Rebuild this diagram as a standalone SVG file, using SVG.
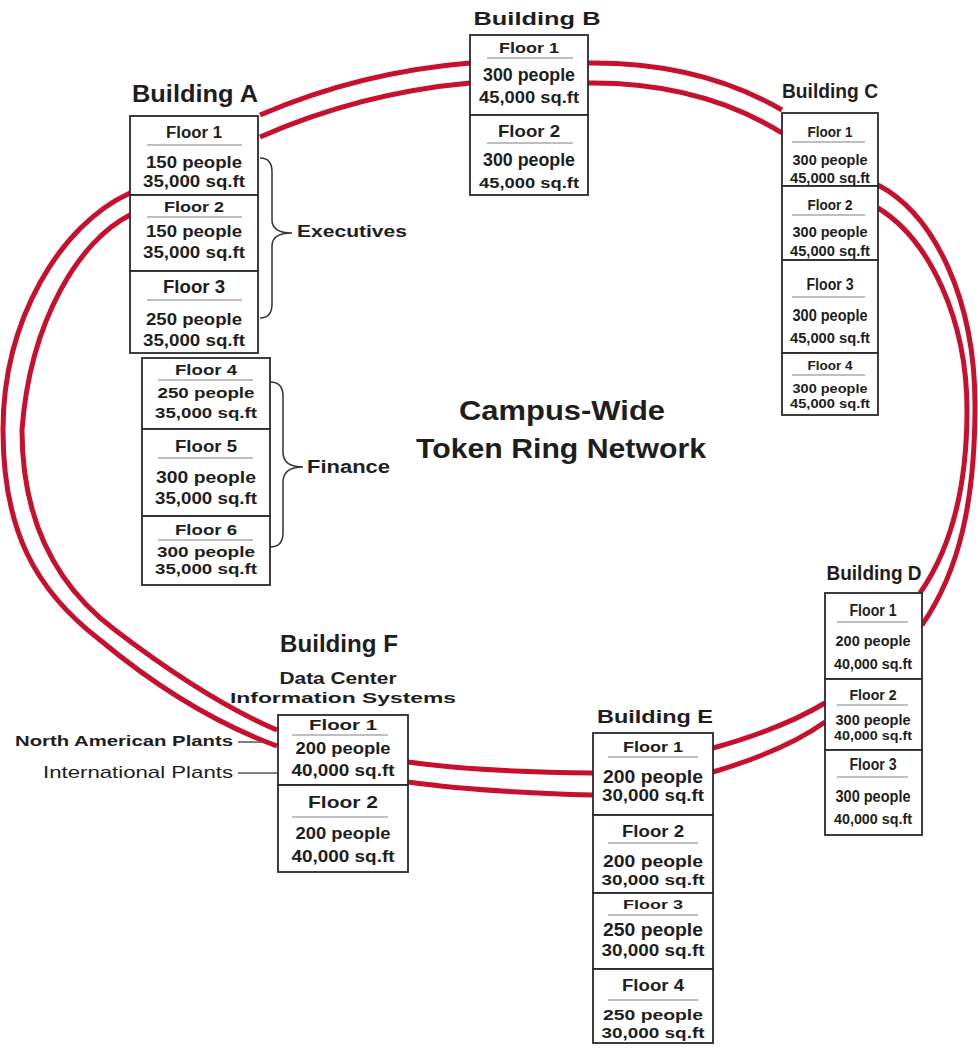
<svg xmlns="http://www.w3.org/2000/svg" width="978" height="1054" viewBox="0 0 978 1054">
<style>
.bg{fill:#fff}
.ring{fill:none;stroke:#c8102e;stroke-width:5;stroke-linecap:butt}
.box{fill:#fff;stroke:#2a2a2a;stroke-width:1.8}
.dv{stroke:#808080;stroke-width:1.2}
.br{fill:none;stroke:#333;stroke-width:1.5}
.ln{stroke:#555;stroke-width:1.5}
.t{font-family:"Liberation Sans",Arial,Helvetica,sans-serif;font-weight:bold;fill:#1e1e1e;text-anchor:middle}
.n{font-weight:normal}
.s{text-anchor:start}
</style>
<rect class="bg" x="0" y="0" width="978" height="1054"/>

<g id="connectors">
  <!-- A to B -->
  <path class="ring" d="M260,115 Q360,72 470,63"/>
  <path class="ring" d="M260,137 Q360,93 470,83"/>
  <!-- B to C -->
  <path class="ring" d="M588,63 Q700,62 782,110"/>
  <path class="ring" d="M588,83 Q700,82 782,133"/>
  <!-- C to D -->
  <path class="ring" d="M878,185 C935,215 975,300 975,405 C975,500 960,570 922,625"/>
  <path class="ring" d="M878,208 C930,240 967,320 967,410 C967,490 950,550 920,593"/>
  <!-- D to E -->
  <path class="ring" d="M713,772 C760,758 800,740 825,722"/>
  <path class="ring" d="M713,748 C760,735 800,718 825,703"/>
  <!-- E to F -->
  <path class="ring" d="M408,782 Q480,792 593,795"/>
  <path class="ring" d="M408,762 Q480,772 593,773"/>
  <!-- F to A (left) -->
  <path class="ring" d="M130,193 C60,225 3,320 3,430 C3,530 35,590 100,640 C160,690 220,725 277,746"/>
  <path class="ring" d="M130,215 C80,240 30,320 22,430 C22,520 55,585 115,630 C170,672 225,708 277,730"/>
  <!-- plant links -->
  <line class="ln" x1="238" y1="742" x2="262" y2="742"/>
  <line class="ln" x1="238" y1="773" x2="278" y2="773"/>
  <!-- braces -->
  <path class="br" d="M260,158 Q272,158 272,172 L272,220 Q272,233 292,233 Q272,233 272,246 L272,304 Q272,318 260,318"/>
  <path class="br" d="M270,382 Q283,382 283,396 L283,452 Q283,467 303,467 Q283,467 283,482 L283,533 Q283,547 270,547"/>
</g>

<g id="title">
  <text class="t" x="562" y="420" font-size="28" textLength="206" lengthAdjust="spacingAndGlyphs">Campus-Wide</text>
  <text class="t" x="561" y="458" font-size="28" textLength="290" lengthAdjust="spacingAndGlyphs">Token Ring Network</text>
</g>

<g id="labels">
  <text class="t s" x="297" y="237" font-size="17" textLength="110" lengthAdjust="spacingAndGlyphs">Executives</text>
  <text class="t s" x="307" y="473" font-size="18" textLength="83" lengthAdjust="spacingAndGlyphs">Finance</text>
  <text class="t s" x="15" y="746" font-size="14" textLength="218" lengthAdjust="spacingAndGlyphs">North American Plants</text>
  <text class="t s n" x="43" y="778" font-size="17" textLength="190" lengthAdjust="spacingAndGlyphs">International Plants</text>
</g>

<g id="building-a">
  <text class="t" x="195" y="102" font-size="24" textLength="126" lengthAdjust="spacingAndGlyphs">Building A</text>
  <rect class="box" x="130" y="116" width="128" height="79"/>
  <text class="t" x="194" y="138" font-size="16" textLength="56" lengthAdjust="spacingAndGlyphs">Floor 1</text>
  <line class="dv" x1="147" y1="145" x2="242" y2="145"/>
  <text class="t" x="194" y="168" font-size="17" textLength="96" lengthAdjust="spacingAndGlyphs">150 people</text>
  <text class="t" x="194" y="187" font-size="16" textLength="102" lengthAdjust="spacingAndGlyphs">35,000 sq.ft</text>
  <rect class="box" x="130" y="195" width="128" height="76"/>
  <text class="t" x="194" y="212" font-size="15" textLength="60" lengthAdjust="spacingAndGlyphs">Floor 2</text>
  <line class="dv" x1="147" y1="217" x2="242" y2="217"/>
  <text class="t" x="194" y="237" font-size="17" textLength="96" lengthAdjust="spacingAndGlyphs">150 people</text>
  <text class="t" x="194" y="258" font-size="16" textLength="102" lengthAdjust="spacingAndGlyphs">35,000 sq.ft</text>
  <rect class="box" x="130" y="271" width="128" height="82"/>
  <text class="t" x="194" y="293" font-size="18" textLength="62" lengthAdjust="spacingAndGlyphs">Floor 3</text>
  <line class="dv" x1="147" y1="300" x2="242" y2="300"/>
  <text class="t" x="194" y="325" font-size="17" textLength="96" lengthAdjust="spacingAndGlyphs">250 people</text>
  <text class="t" x="194" y="346" font-size="16" textLength="102" lengthAdjust="spacingAndGlyphs">35,000 sq.ft</text>

  <rect class="box" x="142" y="358" width="128" height="71"/>
  <text class="t" x="206" y="375" font-size="14" textLength="62" lengthAdjust="spacingAndGlyphs">Floor 4</text>
  <line class="dv" x1="158" y1="380" x2="253" y2="380"/>
  <text class="t" x="206" y="398" font-size="14" textLength="97" lengthAdjust="spacingAndGlyphs">250 people</text>
  <text class="t" x="206" y="418" font-size="15" textLength="102" lengthAdjust="spacingAndGlyphs">35,000 sq.ft</text>
  <rect class="box" x="142" y="429" width="128" height="87"/>
  <text class="t" x="206" y="452" font-size="17" textLength="62" lengthAdjust="spacingAndGlyphs">Floor 5</text>
  <line class="dv" x1="158" y1="458" x2="253" y2="458"/>
  <text class="t" x="206" y="483" font-size="17" textLength="100" lengthAdjust="spacingAndGlyphs">300 people</text>
  <text class="t" x="206" y="504" font-size="16" textLength="102" lengthAdjust="spacingAndGlyphs">35,000 sq.ft</text>
  <rect class="box" x="142" y="516" width="128" height="69"/>
  <text class="t" x="206" y="535" font-size="14" textLength="62" lengthAdjust="spacingAndGlyphs">Floor 6</text>
  <line class="dv" x1="158" y1="540" x2="253" y2="540"/>
  <text class="t" x="206" y="557" font-size="14" textLength="98" lengthAdjust="spacingAndGlyphs">300 people</text>
  <text class="t" x="206" y="574" font-size="14" textLength="102" lengthAdjust="spacingAndGlyphs">35,000 sq.ft</text>
</g>

<g id="building-b">
  <text class="t" x="537" y="25" font-size="18" textLength="127" lengthAdjust="spacingAndGlyphs">Building B</text>
  <rect class="box" x="470" y="35" width="118" height="80"/>
  <text class="t" x="529" y="53" font-size="15" textLength="60" lengthAdjust="spacingAndGlyphs">Floor 1</text>
  <line class="dv" x1="487" y1="58" x2="573" y2="58"/>
  <text class="t" x="529" y="81" font-size="18" textLength="92" lengthAdjust="spacingAndGlyphs">300 people</text>
  <text class="t" x="529" y="103" font-size="16" textLength="100" lengthAdjust="spacingAndGlyphs">45,000 sq.ft</text>
  <rect class="box" x="470" y="115" width="118" height="80"/>
  <text class="t" x="529" y="137" font-size="17" textLength="62" lengthAdjust="spacingAndGlyphs">Floor 2</text>
  <line class="dv" x1="487" y1="143" x2="573" y2="143"/>
  <text class="t" x="529" y="166" font-size="18" textLength="92" lengthAdjust="spacingAndGlyphs">300 people</text>
  <text class="t" x="529" y="188" font-size="15" textLength="100" lengthAdjust="spacingAndGlyphs">45,000 sq.ft</text>
</g>

<g id="building-c">
  <text class="t" x="830" y="98" font-size="20" textLength="96" lengthAdjust="spacingAndGlyphs">Building C</text>
  <rect class="box" x="782" y="113" width="96" height="73"/>
  <text class="t" x="830" y="137" font-size="15" textLength="45" lengthAdjust="spacingAndGlyphs">Floor 1</text>
  <line class="dv" x1="792" y1="142" x2="865" y2="142"/>
  <text class="t" x="830" y="165" font-size="15" textLength="75" lengthAdjust="spacingAndGlyphs">300 people</text>
  <text class="t" x="830" y="183" font-size="14" textLength="80" lengthAdjust="spacingAndGlyphs">45,000 sq.ft</text>
  <rect class="box" x="782" y="186" width="96" height="74"/>
  <text class="t" x="830" y="210" font-size="14" textLength="45" lengthAdjust="spacingAndGlyphs">Floor 2</text>
  <line class="dv" x1="792" y1="215" x2="865" y2="215"/>
  <text class="t" x="830" y="237" font-size="14" textLength="75" lengthAdjust="spacingAndGlyphs">300 people</text>
  <text class="t" x="830" y="256" font-size="15" textLength="80" lengthAdjust="spacingAndGlyphs">45,000 sq.ft</text>
  <rect class="box" x="782" y="260" width="96" height="93"/>
  <text class="t" x="830" y="290" font-size="16" textLength="47" lengthAdjust="spacingAndGlyphs">Floor 3</text>
  <line class="dv" x1="792" y1="297" x2="865" y2="297"/>
  <text class="t" x="830" y="321" font-size="17" textLength="75" lengthAdjust="spacingAndGlyphs">300 people</text>
  <text class="t" x="830" y="343" font-size="15" textLength="80" lengthAdjust="spacingAndGlyphs">45,000 sq.ft</text>
  <rect class="box" x="782" y="353" width="96" height="62"/>
  <text class="t" x="830" y="370" font-size="13" textLength="45" lengthAdjust="spacingAndGlyphs">Floor 4</text>
  <line class="dv" x1="792" y1="375" x2="865" y2="375"/>
  <text class="t" x="830" y="393" font-size="13" textLength="75" lengthAdjust="spacingAndGlyphs">300 people</text>
  <text class="t" x="830" y="408" font-size="13" textLength="80" lengthAdjust="spacingAndGlyphs">45,000 sq.ft</text>
</g>

<g id="building-d">
  <text class="t" x="874" y="580" font-size="20" textLength="95" lengthAdjust="spacingAndGlyphs">Building D</text>
  <rect class="box" x="825" y="593" width="97" height="86"/>
  <text class="t" x="873" y="616" font-size="16" textLength="47" lengthAdjust="spacingAndGlyphs">Floor 1</text>
  <line class="dv" x1="837" y1="622" x2="908" y2="622"/>
  <text class="t" x="873" y="646" font-size="15" textLength="75" lengthAdjust="spacingAndGlyphs">200 people</text>
  <text class="t" x="873" y="669" font-size="15" textLength="78" lengthAdjust="spacingAndGlyphs">40,000 sq.ft</text>
  <rect class="box" x="825" y="679" width="97" height="71"/>
  <text class="t" x="873" y="700" font-size="14" textLength="47" lengthAdjust="spacingAndGlyphs">Floor 2</text>
  <line class="dv" x1="837" y1="705" x2="908" y2="705"/>
  <text class="t" x="873" y="725" font-size="14" textLength="75" lengthAdjust="spacingAndGlyphs">300 people</text>
  <text class="t" x="873" y="740" font-size="13" textLength="78" lengthAdjust="spacingAndGlyphs">40,000 sq.ft</text>
  <rect class="box" x="825" y="750" width="97" height="85"/>
  <text class="t" x="873" y="770" font-size="16" textLength="47" lengthAdjust="spacingAndGlyphs">Floor 3</text>
  <line class="dv" x1="837" y1="777" x2="908" y2="777"/>
  <text class="t" x="873" y="802" font-size="16" textLength="75" lengthAdjust="spacingAndGlyphs">300 people</text>
  <text class="t" x="873" y="824" font-size="15" textLength="78" lengthAdjust="spacingAndGlyphs">40,000 sq.ft</text>
</g>

<g id="building-e">
  <text class="t" x="655" y="723" font-size="18" textLength="116" lengthAdjust="spacingAndGlyphs">Building E</text>
  <rect class="box" x="593" y="733" width="120" height="82"/>
  <text class="t" x="653" y="752" font-size="14" textLength="60" lengthAdjust="spacingAndGlyphs">Floor 1</text>
  <line class="dv" x1="608" y1="757" x2="698" y2="757"/>
  <text class="t" x="653" y="783" font-size="18" textLength="100" lengthAdjust="spacingAndGlyphs">200 people</text>
  <text class="t" x="653" y="801" font-size="16" textLength="102" lengthAdjust="spacingAndGlyphs">30,000 sq.ft</text>
  <rect class="box" x="593" y="815" width="120" height="78"/>
  <text class="t" x="653" y="837" font-size="16" textLength="62" lengthAdjust="spacingAndGlyphs">Floor 2</text>
  <line class="dv" x1="608" y1="843" x2="698" y2="843"/>
  <text class="t" x="653" y="867" font-size="17" textLength="100" lengthAdjust="spacingAndGlyphs">200 people</text>
  <text class="t" x="653" y="885" font-size="14" textLength="103" lengthAdjust="spacingAndGlyphs">30,000 sq.ft</text>
  <rect class="box" x="593" y="893" width="120" height="76"/>
  <text class="t" x="653" y="909" font-size="13" textLength="60" lengthAdjust="spacingAndGlyphs">Floor 3</text>
  <line class="dv" x1="608" y1="915" x2="698" y2="915"/>
  <text class="t" x="653" y="936" font-size="18" textLength="100" lengthAdjust="spacingAndGlyphs">250 people</text>
  <text class="t" x="653" y="956" font-size="16" textLength="103" lengthAdjust="spacingAndGlyphs">30,000 sq.ft</text>
  <rect class="box" x="593" y="969" width="120" height="74"/>
  <text class="t" x="653" y="991" font-size="16" textLength="62" lengthAdjust="spacingAndGlyphs">Floor 4</text>
  <line class="dv" x1="608" y1="1000" x2="698" y2="1000"/>
  <text class="t" x="653" y="1020" font-size="15" textLength="100" lengthAdjust="spacingAndGlyphs">250 people</text>
  <text class="t" x="653" y="1038" font-size="14" textLength="103" lengthAdjust="spacingAndGlyphs">30,000 sq.ft</text>
</g>

<g id="building-f">
  <text class="t" x="339" y="652" font-size="23" textLength="118" lengthAdjust="spacingAndGlyphs">Building F</text>
  <text class="t" x="338" y="684" font-size="16" textLength="117" lengthAdjust="spacingAndGlyphs">Data Center</text>
  <text class="t" x="343" y="703" font-size="15" textLength="226" lengthAdjust="spacingAndGlyphs">Information Systems</text>
  <rect class="box" x="278" y="715" width="130" height="70"/>
  <text class="t" x="343" y="730" font-size="14" textLength="68" lengthAdjust="spacingAndGlyphs">Floor 1</text>
  <line class="dv" x1="292" y1="735" x2="388" y2="735"/>
  <text class="t" x="343" y="754" font-size="16" textLength="95" lengthAdjust="spacingAndGlyphs">200 people</text>
  <text class="t" x="343" y="776" font-size="16" textLength="103" lengthAdjust="spacingAndGlyphs">40,000 sq.ft</text>
  <rect class="box" x="278" y="785" width="130" height="87"/>
  <text class="t" x="343" y="808" font-size="17" textLength="70" lengthAdjust="spacingAndGlyphs">Floor 2</text>
  <line class="dv" x1="292" y1="817" x2="388" y2="817"/>
  <text class="t" x="343" y="839" font-size="17" textLength="95" lengthAdjust="spacingAndGlyphs">200 people</text>
  <text class="t" x="343" y="862" font-size="17" textLength="103" lengthAdjust="spacingAndGlyphs">40,000 sq.ft</text>
</g>
</svg>
